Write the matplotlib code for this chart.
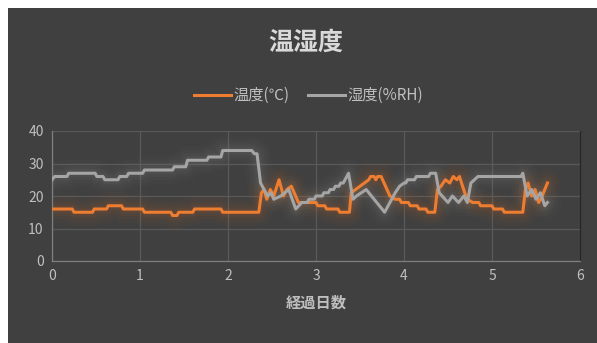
"""
温湿度 chart: temperature and humidity over elapsed days.
"""
import matplotlib
matplotlib.use("Agg")
import matplotlib.pyplot as plt
from matplotlib.patches import Rectangle

plt.rcParams['font.family'] = ['Noto Sans CJK JP', 'DejaVu Sans']

# temperature (°C) vs elapsed days
temp_days = [0, 0.23, 0.25, 0.46, 0.48, 0.62, 0.64, 0.79, 0.81, 1.03, 1.05, 1.35, 1.37, 1.42,
             1.44, 1.6, 1.62, 1.92, 1.94, 2.35, 2.38, 2.41, 2.44, 2.48, 2.52, 2.58, 2.63, 2.67,
             2.72, 2.8, 3.0, 3.02, 3.1, 3.12, 3.25, 3.27, 3.38, 3.4, 3.45, 3.5, 3.55, 3.6, 3.62,
             3.66, 3.68, 3.7, 3.74, 3.84, 3.9, 3.95, 3.97, 4.05, 4.07, 4.15, 4.17, 4.25, 4.27,
             4.35, 4.38, 4.42, 4.47, 4.52, 4.56, 4.6, 4.63, 4.69, 4.72, 4.78, 4.85, 4.87, 5.0,
             5.02, 5.12, 5.14, 5.35, 5.38, 5.41, 5.45, 5.49, 5.53, 5.57, 5.6, 5.63]
temp_vals = [16, 16, 15, 15, 16, 16, 17, 17, 16, 16, 15, 15, 14, 14,
             15, 15, 16, 16, 15, 15, 21, 22, 19, 22, 20, 25, 20, 22,
             23, 18, 18, 17, 17, 16, 16, 15, 15, 21, 22, 23, 24, 25, 26,
             26, 25, 26, 26, 20, 19, 19, 18, 18, 17, 17, 16, 16, 15,
             15, 22, 23, 25, 24, 26, 25, 26, 21, 19, 18, 18, 17, 17,
             16, 16, 15, 15, 22, 24, 20, 22, 18, 20, 22, 24]

# humidity (%RH) vs elapsed days
hum_days = [0, 0.03, 0.17, 0.19, 0.49, 0.51, 0.58, 0.6, 0.75, 0.77, 0.85, 0.87, 1.03, 1.05,
            1.37, 1.39, 1.52, 1.54, 1.76, 1.78, 1.92, 1.94, 2.27, 2.3, 2.33, 2.37, 2.41, 2.45,
            2.49, 2.52, 2.6, 2.69, 2.77, 2.84, 2.9, 2.92, 2.98, 3.0, 3.07, 3.09, 3.14, 3.16,
            3.2, 3.22, 3.26, 3.28, 3.31, 3.33, 3.37, 3.42, 3.46, 3.57, 3.78, 3.9, 3.95, 4.0,
            4.02, 4.04, 4.12, 4.14, 4.28, 4.3, 4.36, 4.4, 4.5, 4.55, 4.62, 4.68, 4.72, 4.76,
            4.84, 5.33, 5.35, 5.4, 5.45, 5.5, 5.55, 5.6, 5.63]
hum_vals = [25, 26, 26, 27, 27, 26, 26, 25, 25, 26, 26, 27, 27, 28,
            28, 29, 29, 31, 31, 32, 32, 34, 34, 33, 33, 24, 22, 20,
            21, 19, 20, 22, 16, 18, 18, 19, 19, 20, 20, 21, 21, 22,
            22, 23, 23, 24, 24, 25, 27, 19, 20, 22, 15, 21, 23, 24,
            24, 25, 25, 26, 26, 27, 27, 21, 18, 20, 18, 20, 18, 24,
            26, 26, 27, 20, 22, 19, 21, 17, 18]

x_ticks = [0, 1, 2, 3, 4, 5, 6]
y_ticks = [0, 10, 20, 30, 40]

bg = '#404040'
text_col = '#bfbfbf'
orange = '#ed7d31'
gray = '#a5a5a5'

fig = plt.figure(figsize=(5.97, 3.43), dpi=100)
fig.patch.set_facecolor('white')
fig.patches.append(Rectangle((8 / 597, 0), 1, 1 - 8 / 343, transform=fig.transFigure,
                             facecolor=bg, edgecolor='none', zorder=-10))

ax = fig.add_axes([52 / 597, 82 / 343, 528 / 597, 130 / 343])
ax.set_facecolor(bg)

# soft glow under each line
for w, a in [(20, 0.04), (15, 0.05), (10, 0.08), (6, 0.1)]:
    ax.plot(hum_days, hum_vals, color='#808080', lw=w, alpha=a, solid_capstyle='round',
            solid_joinstyle='round', zorder=2)
    ax.plot(temp_days, temp_vals, color='#b8612a', lw=w, alpha=a, solid_capstyle='round',
            solid_joinstyle='round', zorder=2)

ax.plot(temp_days, temp_vals, color=orange, lw=2.2, zorder=4, label='温度(℃)')
ax.plot(hum_days, hum_vals, color=gray, lw=2.2, zorder=5, label='湿度(%RH)')

ax.set_xlim(0, 6)
ax.set_ylim(0, 40)
ax.set_xticks(x_ticks)
ax.set_yticks(y_ticks)
ax.grid(True, color='#595959', lw=0.9)
ax.set_axisbelow(True)
ax.tick_params(length=0, colors=text_col, labelsize=10, pad=6)
ax.spines['top'].set_visible(False)
ax.spines['left'].set_color('#7f7f7f')
ax.spines['bottom'].set_color('#7f7f7f')
ax.spines['right'].set_color('#262626')
for s in ax.spines.values():
    s.set_linewidth(0.9)

ax.set_xlabel('経過日数', color=text_col, fontsize=11, fontweight='bold', labelpad=8)

fig.text(0.513, 0.875, '温湿度', ha='center', va='center', color='#d9d9d9',
         fontsize=18, fontweight='bold')

handles, labels = ax.get_legend_handles_labels()
leg = fig.legend(handles[:2], labels[:2], loc='center', bbox_to_anchor=(0.517, 0.722),
                 ncol=2, frameon=False, fontsize=11, labelcolor=text_col,
                 handlelength=2.4, handletextpad=0.2, columnspacing=1.2)

fig.savefig('out.png', dpi=100, facecolor=fig.get_facecolor())
